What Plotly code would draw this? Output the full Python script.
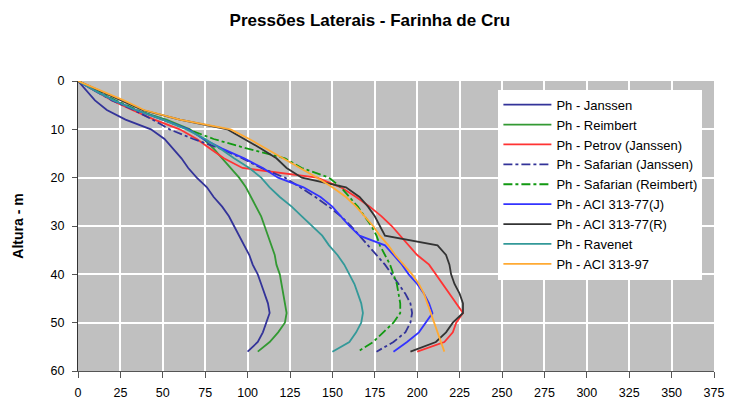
import plotly.graph_objects as go

depth = [0, 2, 4, 6, 8, 10, 12, 14, 16, 18, 20, 22, 24, 26, 28, 30, 32, 34, 36, 38, 40, 42, 44, 46, 48, 50, 52, 54, 56]

ph_janssen = [0, 5, 10, 17, 28, 43, 51, 56, 61, 65, 70, 76, 80, 85, 89, 92, 95, 98, 101, 103, 106, 108, 110, 112, 113, 111, 109, 106, 100]
ph_reimbert = [0, 10, 21, 34, 52, 66, 74, 80, 85, 90, 95, 99, 102, 105, 108, 110, 112, 114, 116, 117, 119, 120, 121, 122, 123, 122, 118, 113, 106]
ph_petrov = [0, 10, 20, 32, 45, 60, 70, 78, 86, 97, 141, 155, 164, 172, 179, 185, 190, 195, 200, 207, 211, 215, 219, 223, 227, 223, 221, 216, 200]
ph_safarian_j = [0, 10, 20, 33, 44, 54, 68, 84, 97, 108, 122, 131, 140, 148, 155, 161, 166, 171, 176, 181, 185, 189, 193, 196, 197, 196, 193, 186, 176]
ph_safarian_r = [0, 11, 22, 35, 50, 66, 80, 100, 122, 132, 148, 155, 160, 165, 169, 173, 176, 178, 181, 184, 186, 188, 189, 190, 190, 186, 180, 174, 165]
ph_aci77_j = [0, 10, 21, 34, 50, 65, 74, 85, 98, 109, 118, 133, 143, 150, 155, 160, 166, 181, 186, 191, 195, 200, 204, 207, 209, 205, 201, 194, 186]
ph_aci77_r = [0, 13, 26, 38, 60, 88, 98, 108, 117, 123, 132, 158, 166, 171, 175, 178, 181, 212, 217, 219, 220, 222, 225, 227, 227, 221, 217, 211, 196]
ph_ravenet = [0, 10, 21, 34, 50, 64, 75, 84, 92, 101, 108, 113, 119, 126, 132, 138, 144, 148, 153, 157, 160, 163, 165, 167, 168, 167, 164, 160, 150]
ph_aci97 = [0, 14, 27, 39, 60, 90, 101, 111, 121, 131, 141, 150, 158, 164, 169, 174, 178, 183, 187, 192, 197, 201, 204, 206, 208, 210, 212, 214, 216]

x_ticks = [0, 25, 50, 75, 100, 125, 150, 175, 200, 225, 250, 275, 300, 325, 350, 375]
y_ticks = [0, 10, 20, 30, 40, 50, 60]

series = [
    ("Ph - Janssen", ph_janssen, "#333399", "solid"),
    ("Ph - Reimbert", ph_reimbert, "#339933", "solid"),
    ("Ph - Petrov (Janssen)", ph_petrov, "#FF3333", "solid"),
    ("Ph - Safarian (Janssen)", ph_safarian_j, "#333399", "dashdot"),
    ("Ph - Safarian (Reimbert)", ph_safarian_r, "#119911", "dashdot"),
    ("Ph - ACI 313-77(J)", ph_aci77_j, "#3333FF", "solid"),
    ("Ph - ACI 313-77(R)", ph_aci77_r, "#333333", "solid"),
    ("Ph - Ravenet", ph_ravenet, "#339999", "solid"),
    ("Ph - ACI 313-97", ph_aci97, "#FFAA33", "solid"),
]

fig = go.Figure()
for name, vals, color, dash in series:
    fig.add_trace(go.Scatter(
        x=vals, y=depth, mode="lines", name=name,
        line=dict(color=color, width=1.8, dash=dash),
    ))

fig.update_layout(
    width=731, height=403,
    margin=dict(l=78, r=17, t=81, b=32),
    paper_bgcolor="white",
    plot_bgcolor="#C0C0C0",
    font=dict(family="Liberation Sans, Arial, sans-serif", size=12, color="#000000"),
    title=dict(text="<b>Pressões Laterais - Farinha de Cru</b>", x=0.506, xanchor="center",
               y=1 - 20 / 403, yanchor="middle", yref="container",
               font=dict(size=17, color="#000000")),
    showlegend=True,
    legend=dict(x=0.661, y=0.97, xanchor="left", yanchor="top",
                bgcolor="white", borderwidth=0,
                font=dict(size=13), tracegroupgap=0, itemwidth=48),
    xaxis=dict(range=[0, 375], tickvals=x_ticks, showgrid=True, gridcolor="white", gridwidth=2,
               showline=True, linecolor="#555555", linewidth=1, ticks="outside",
               ticklen=6, tickcolor="#555555", zeroline=False, mirror=False,
               ticklabelstandoff=4, automargin=False, tickfont=dict(size=12.5)),
    yaxis=dict(range=[60, 0], tickvals=y_ticks, showgrid=True, gridcolor="white", gridwidth=2,
               showline=True, linecolor="#333333", linewidth=1, ticks="outside",
               ticklen=5, tickcolor="#555555", zeroline=False, ticklabelstandoff=5,
               automargin=False, tickfont=dict(size=12.5),
               title=dict(text="<b>Altura - m</b>", font=dict(size=14), standoff=23)),
)

fig.write_html(
    "out.html",
    config={"displayModeBar": False},
    post_script="document.body.style.margin='0';document.body.style.overflow='hidden';",
)
